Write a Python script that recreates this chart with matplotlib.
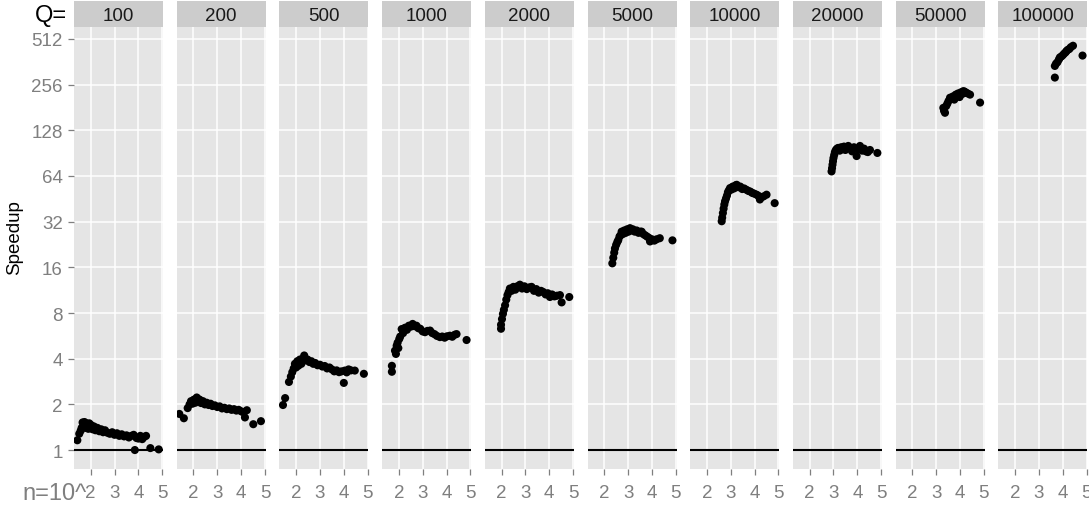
import matplotlib
matplotlib.use("Agg")
import matplotlib.pyplot as plt
from matplotlib.ticker import NullLocator

plt.rcParams['font.family'] = ['Liberation Sans', 'DejaVu Sans']

# facet labels (Q) and the points of each facet: x = log10(n), y = speedup
q_labels = ["100", "200", "500", "1000", "2000", "5000", "10000", "20000", "50000", "100000"]

x_q100 = [1.44, 1.52, 1.58, 1.62, 1.66, 1.70, 1.74, 1.78, 1.82, 1.86, 1.90, 1.94, 1.98, 2.02,
          2.08, 2.14, 2.20, 2.28, 2.36, 2.44, 2.52, 2.60, 2.70, 2.80, 2.90, 3.00, 3.10, 3.20,
          3.30, 3.40, 3.50, 3.60, 3.70, 3.80, 3.85, 3.92, 4.00, 4.08, 4.16, 4.24, 4.32, 4.50, 4.85]
y_q100 = [1.16, 1.28, 1.34, 1.40, 1.52, 1.44, 1.53, 1.40, 1.50, 1.46, 1.38, 1.50, 1.42, 1.46,
          1.37, 1.43, 1.35, 1.40, 1.33, 1.37, 1.31, 1.35, 1.30, 1.28, 1.31, 1.26, 1.29, 1.24,
          1.27, 1.23, 1.25, 1.21, 1.24, 1.26, 1.00, 1.20, 1.19, 1.24, 1.18, 1.22, 1.24, 1.03, 1.01]

x_q200 = [1.41, 1.60, 1.76, 1.84, 1.90, 1.96, 2.02, 2.08, 2.14, 2.20, 2.26, 2.32, 2.40, 2.48,
          2.56, 2.64, 2.72, 2.80, 2.90, 3.00, 3.10, 3.20, 3.30, 3.40, 3.50, 3.60, 3.70, 3.80,
          3.90, 4.00, 4.08, 4.16, 4.24, 4.51, 4.83]
y_q200 = [1.73, 1.62, 1.89, 2.00, 2.10, 2.02, 2.15, 2.05, 2.22, 2.10, 2.15, 2.04, 2.10, 2.00,
          2.05, 1.98, 2.02, 1.95, 1.97, 1.92, 1.94, 1.88, 1.90, 1.86, 1.88, 1.84, 1.86, 1.82,
          1.84, 1.80, 1.78, 1.64, 1.83, 1.48, 1.55]

x_q500 = [1.45, 1.54, 1.70, 1.78, 1.84, 1.90, 1.95, 2.00, 2.05, 2.10, 2.16, 2.22, 2.28, 2.34,
          2.40, 2.48, 2.56, 2.64, 2.72, 2.80, 2.90, 3.00, 3.10, 3.20, 3.30, 3.40, 3.50, 3.60,
          3.70, 3.80, 3.90, 4.00, 4.04, 4.12, 4.20, 4.30, 4.46, 4.84]
y_q500 = [1.98, 2.20, 2.81, 3.05, 3.26, 3.45, 3.70, 3.50, 3.85, 3.60, 3.95, 3.70, 4.00, 4.20,
          3.90, 3.95, 3.80, 3.85, 3.70, 3.75, 3.62, 3.65, 3.55, 3.58, 3.45, 3.50, 3.40, 3.30,
          3.35, 3.26, 3.30, 2.77, 3.34, 3.25, 3.40, 3.35, 3.34, 3.18]

x_q1000 = [1.71, 1.71, 1.84, 1.88, 1.91, 1.95, 1.98, 2.02, 2.06, 2.12, 2.18, 2.26, 2.34, 2.42,
           2.50, 2.58, 2.66, 2.74, 2.82, 2.90, 3.00, 3.10, 3.20, 3.31, 3.40, 3.50, 3.60, 3.72,
           3.82, 3.92, 4.02, 4.14, 4.24, 4.34, 4.42, 4.84]
y_q1000 = [3.28, 3.59, 4.52, 4.30, 4.87, 5.10, 4.70, 5.40, 5.60, 6.27, 5.90, 6.40, 6.20, 6.60,
           6.50, 6.78, 6.55, 6.60, 6.35, 6.30, 6.05, 5.98, 6.10, 6.13, 5.90, 5.80, 5.65, 5.55,
           5.60, 5.50, 5.62, 5.67, 5.58, 5.75, 5.81, 5.31]

x_q2000 = [1.98, 1.98, 2.02, 2.06, 2.10, 2.15, 2.20, 2.25, 2.30, 2.35, 2.42, 2.50, 2.58, 2.66,
           2.77, 2.86, 2.96, 3.06, 3.16, 3.26, 3.36, 3.46, 3.56, 3.66, 3.75, 3.85, 3.94, 4.03,
           4.12, 4.22, 4.32, 4.45, 4.52, 4.84]
y_q2000 = [6.3, 6.7, 7.3, 7.9, 8.4, 9.0, 9.8, 10.5, 11.0, 11.6, 11.2, 11.9, 11.4, 12.0,
           12.3, 11.6, 12.0, 11.5, 11.8, 11.9, 11.2, 11.5, 10.9, 11.2, 11.0, 10.6, 10.8, 10.2,
           10.6, 10.3, 10.4, 10.5, 9.4, 10.2]

x_q5000 = [2.34, 2.38, 2.42, 2.45, 2.50, 2.55, 2.59, 2.64, 2.68, 2.73, 2.78, 2.84, 2.90, 2.96,
           3.02, 3.08, 3.14, 3.20, 3.28, 3.36, 3.44, 3.52, 3.57, 3.64, 3.72, 3.80, 3.88, 3.92,
           4.00, 4.10, 4.20, 4.33, 4.86]
y_q5000 = [17.0, 18.5, 20.0, 21.3, 22.5, 23.5, 24.2, 25.5, 26.0, 27.5, 26.5, 28.0, 27.0, 28.5,
           27.5, 29.0, 28.0, 28.5, 27.5, 28.0, 27.0, 27.5, 27.5, 26.5, 26.0, 25.5, 25.0, 23.7,
           24.5, 24.0, 24.5, 24.9, 24.1]

x_q10000 = [2.62, 2.64, 2.67, 2.70, 2.73, 2.76, 2.80, 2.84, 2.88, 2.92, 2.97, 3.02, 3.08, 3.14,
            3.20, 3.25, 3.32, 3.40, 3.48, 3.56, 3.66, 3.74, 3.82, 3.90, 3.98, 4.08, 4.15, 4.22,
            4.30, 4.38, 4.50, 4.84]
y_q10000 = [32.2, 34.0, 36.5, 39.0, 41.5, 43.6, 45.5, 47.5, 50.0, 51.5, 53.3, 52.0, 54.5, 53.0,
            55.5, 56.0, 54.0, 54.5, 52.5, 53.0, 51.9, 51.0, 50.5, 49.5, 49.0, 48.2, 47.5, 44.8,
            46.5, 47.0, 48.2, 42.4]

x_q20000 = [2.92, 2.94, 2.96, 2.98, 3.00, 3.03, 3.06, 3.10, 3.15, 3.20, 3.26, 3.32, 3.38, 3.44,
            3.50, 3.56, 3.62, 3.70, 3.78, 3.86, 3.97, 4.04, 4.11, 4.20, 4.28, 4.36, 4.44, 4.53, 4.84]
y_q20000 = [68.6, 72.0, 76.0, 80.0, 84.0, 88.0, 92.0, 95.0, 97.0, 98.0, 94.0, 99.0, 96.0, 100.0,
            95.0, 98.0, 101.0, 97.0, 93.0, 99.0, 86.6, 96.0, 101.0, 94.0, 97.0, 93.0, 92.0, 95.0, 90.8]

x_q50000 = [3.30, 3.33, 3.37, 3.42, 3.47, 3.52, 3.58, 3.64, 3.70, 3.76, 3.82, 3.86, 3.92, 3.98,
            4.04, 4.09, 4.14, 4.20, 4.26, 4.32, 4.42, 4.84]
y_q50000 = [180, 172, 167, 185, 192, 200, 210, 206, 214, 204, 220, 216, 224, 212,
            228, 222, 232, 230, 226, 224, 220, 195]

x_q100000 = [3.67, 3.67, 3.72, 3.78, 3.84, 3.88, 3.94, 4.00, 4.06, 4.12, 4.16, 4.22, 4.28, 4.34,
             4.43, 4.83]
y_q100000 = [285, 340, 352, 360, 375, 387, 392, 400, 410, 418, 427, 435, 440, 452, 462, 398]

xs_all = [x_q100, x_q200, x_q500, x_q1000, x_q2000, x_q5000, x_q10000, x_q20000, x_q50000, x_q100000]
ys_all = [y_q100, y_q200, y_q500, y_q1000, y_q2000, y_q5000, y_q10000, y_q20000, y_q50000, y_q100000]

x_ticks = [2, 3, 4, 5]
y_ticks = [1, 2, 4, 8, 16, 32, 64, 128, 256, 512]

W, H = 1089, 506
fig = plt.figure(figsize=(W / 100, H / 100), dpi=100)

left0, step, pw = 74, 102.7, 89
top, bottom = 28, 470
strip_top = 2

for i in range(len(q_labels)):
    l = left0 + i * step
    ax = fig.add_axes([l / W, (H - bottom) / H, pw / W, (bottom - top) / H])
    ax.set_facecolor('#E5E5E5')
    ax.set_yscale('log', base=2)
    ax.set_xlim(1.30, 5.03)
    ax.set_ylim(0.75, 614)
    ax.set_xticks(x_ticks)
    ax.set_xticklabels([str(t) for t in x_ticks])
    ax.set_yticks(y_ticks)
    ax.set_yticklabels([str(t) for t in y_ticks])
    ax.yaxis.set_minor_locator(NullLocator())
    ax.grid(color='white', lw=1.1)
    ax.set_axisbelow(True)
    for s in ax.spines.values():
        s.set_visible(False)
    ax.axhline(1, color='black', lw=1.5, zorder=2)
    ax.scatter(xs_all[i], ys_all[i], s=34, color='black', edgecolors='none', zorder=3)
    ax.tick_params(colors='#7F7F7F', labelsize=13.5, length=4, width=0.9, pad=4)
    ax.tick_params(axis='x', pad=7)
    ax.tick_params(axis='y', left=(i == 0), labelleft=(i == 0))

    sax = fig.add_axes([l / W, (H - top) / H, pw / W, (top - strip_top) / H])
    sax.set_facecolor('#CCCCCC')
    sax.set_xticks([])
    sax.set_yticks([])
    for s in sax.spines.values():
        s.set_visible(False)
    sax.text(0.5, 0.45, q_labels[i], ha='center', va='center', fontsize=13.5,
             color='#1A1A1A', transform=sax.transAxes)

fig.text(67 / W, 1 - 16 / H, "Q=", ha='right', va='center', fontsize=17, color='black')
fig.text(87 / W, 1 - 500 / H, "n=10^", ha='right', va='baseline', fontsize=17, color='#7F7F7F')
fig.text(15 / W, 1 - 238 / H, "Speedup", ha='center', va='center', rotation=90,
         fontsize=13.5, color='black')

fig.savefig("out.png", dpi=100)
